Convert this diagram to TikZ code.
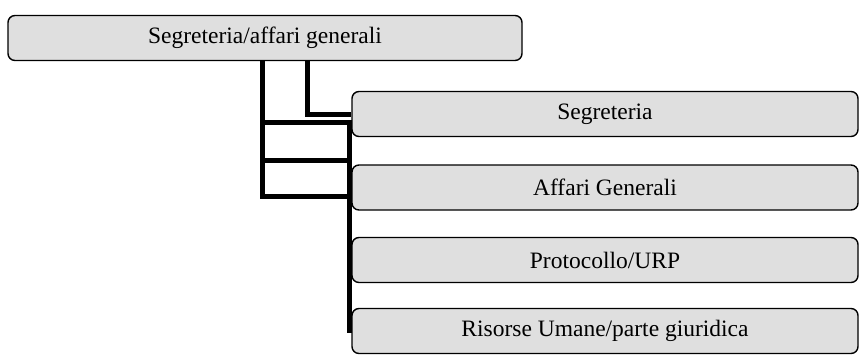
\documentclass[tikz,border=0pt]{standalone}
\usepackage{fontspec}
\setmainfont{Liberation Serif}
\begin{document}
\begin{tikzpicture}[x=1pt,y=-1pt,
  box/.style={draw=black, line width=1.4pt, fill=gray!25, rounded corners=7pt,
    inner sep=0pt, minimum height=45pt, font=\fontsize{23.5}{28}\selectfont},
  sub/.style={box, minimum width=506pt},
  conn/.style={line width=5pt}]
\useasboundingbox (0,0) rectangle (859,354);
\node[box, minimum width=514pt] (top) at (265,38) {Segreteria/affari generali};
\node[sub] (s1) at (605,114) {Segreteria};
\node[sub] (s2) at (605,187.5) {Affari Generali};
\node[sub] (s3) at (605,260) {Protocollo/URP};
\node[sub] (s4) at (605,331) {Risorse Umane/parte giuridica};
\coordinate (ix) at (307,0);
\coordinate (la) at (262,122.5);
\coordinate (lb) at (262,160.5);
\coordinate (lc) at (262,196);
\coordinate (ra) at (349,122.5);
\coordinate (rb) at (349,160.5);
\coordinate (rc) at (349,196);
\coordinate (rd) at (349,333);
\draw[conn] (top.south -| lc) -- (lc) -- (rc);
\draw[conn] (la) -- (ra) -- (rd);
\draw[conn] (lb) -- (rb);
\draw[conn] (top.south -| ix) |- (s1.west);
\end{tikzpicture}
\end{document}
